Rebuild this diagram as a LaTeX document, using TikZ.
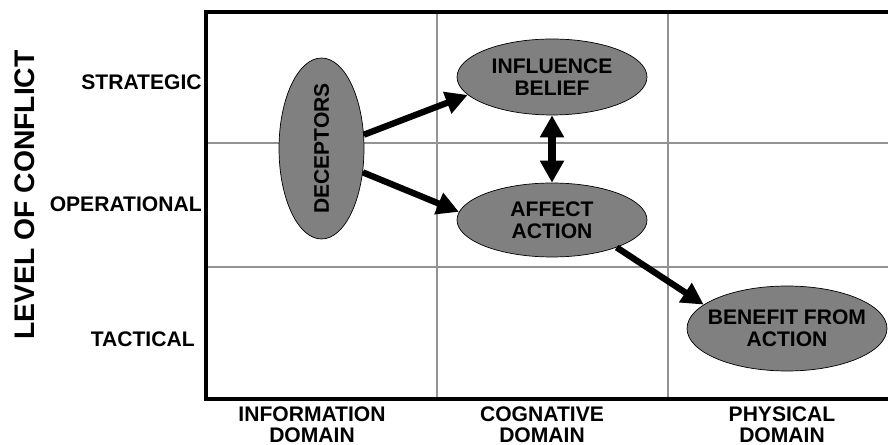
\documentclass[tikz,border=0pt]{standalone}
\usepackage{fontspec}
\setmainfont{Liberation Sans}
\usetikzlibrary{shapes}
\usetikzlibrary{arrows.meta}
\tikzset{
    mynode/.style = {ellipse, thin, draw=black, fill=gray, inner sep=0pt, align=center, font=\fontsize{12}{12.5}\selectfont\bfseries},
    rowlabel/.style = {anchor=east, inner sep=0pt, font=\fontsize{12}{12.5}\selectfont\bfseries},
    collabel/.style = {anchor=north, inner sep=0pt, align=center, font=\fontsize{12}{12}\selectfont\bfseries},
    gridline/.style = {line width=1.6pt, draw=gray!85},
    boxline/.style = {line width=2.2pt, draw=black},
    edgen/.style = {-{Triangle[length=12.5pt,width=12.5pt]}, line width=3.6pt},
    edged/.style = {{Triangle[length=12.5pt,width=13pt]}-{Triangle[length=12.5pt,width=13pt]}, line width=4pt}
}
\begin{document}
\begin{tikzpicture}[x=0.02cm, y=-0.02cm]
  \useasboundingbox (0,0) rectangle (888,445);

  % grid
  \foreach \x in {437,668} \draw[gridline] (\x,12) -- (\x,399);
  \foreach \y in {143,267} \draw[gridline] (206,\y) -- (888,\y);
  \draw[boxline] (888,12) -| (206,399) -- (888,399);

  \node[rowlabel] (strat) at (202,82) {STRATEGIC};
  \node[rowlabel] (oper) at (202,204) {OPERATIONAL};
  \node[rowlabel] (tact) at (195,339) {TACTICAL};
  \node[rotate=90, inner sep=0pt, font=\fontsize{16.1}{18}\selectfont\bfseries] (level) at (25,195) {LEVEL OF CONFLICT};

  \node[collabel] (info) at (312,406) {INFORMATION\\DOMAIN};
  \node[collabel] (cogn) at (542,406) {COGNATIVE\\DOMAIN};
  \node[collabel] (phys) at (782,406) {PHYSICAL\\DOMAIN};

  \node[mynode, rotate=90, inner xsep=-2pt, minimum width=3.62cm, minimum height=1.7cm] (dec) at (321.5,148.5) {DECEPTORS};
  \node[mynode, minimum width=3.8cm, minimum height=1.52cm] (inf) at (552,77) {INFLUENCE\\BELIEF};
  \node[mynode, minimum width=3.8cm, minimum height=1.48cm] (aff) at (552,220) {AFFECT\\ACTION};
  \node[mynode, inner xsep=-6pt, minimum width=4cm, minimum height=1.7cm] (ben) at (787,328.5) {BENEFIT FROM\\ACTION};

  \draw[edgen] (dec.288) -- (inf.192);
  \draw[edgen] (dec.240) -- (aff.175);
  \draw[edged] (inf.south) -- (aff.north);
  \draw[edgen] (aff.337) -- (ben.164);
\end{tikzpicture}
\end{document}
